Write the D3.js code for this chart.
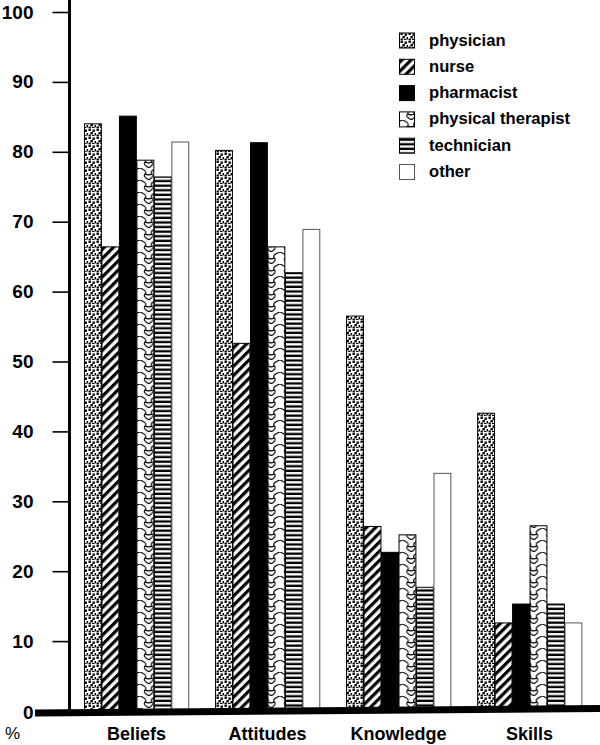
<!DOCTYPE html>
<html><head><meta charset="utf-8">
<script src="https://cdn.jsdelivr.net/npm/d3@7"></script>
<style>body{margin:0;background:#fff}svg{display:block}text{font-family:"Liberation Sans",Arial,Helvetica,sans-serif;font-weight:bold;fill:#000}</style>
</head><body><svg id="c" width="600" height="745"></svg>
<script>
const categories = ["Beliefs", "Attitudes", "Knowledge", "Skills"];
const series = ["physician", "nurse", "pharmacist", "physical therapist", "technician", "other"];
const physician = [84.0, 80.2, 56.5, 42.6];
const nurse = [66.4, 52.6, 26.4, 12.6];
const pharmacist = [85.1, 81.3, 22.7, 15.3];
const physicalTherapist = [78.8, 66.4, 25.2, 26.5];
const technician = [76.4, 62.7, 17.7, 15.3];
const other = [81.4, 68.9, 34.0, 12.6];
const yTicks = [0, 10, 20, 30, 40, 50, 60, 70, 80, 90, 100];
const values = [physician, nurse, pharmacist, physicalTherapist, technician, other];
const fills = ["url(#pDots)", "url(#pDiag)", "#000", "url(#pWave)", "url(#pHoriz)", "#fff"];
const strokes = ["#000", "#000", "#000", "#000", "#000", "#555"];

const svg = d3.select("#c");
const defs = svg.append("defs");
// stipple
const pd = defs.append("pattern").attr("id","pDots").attr("patternUnits","userSpaceOnUse").attr("width",8).attr("height",8);
pd.append("rect").attr("width",8).attr("height",8).attr("fill","#fff");
[[0.5,0.5],[4.5,1.5],[2.5,4],[6.5,5],[0.5,6.5],[4,7]].forEach(p=>pd.append("rect").attr("x",p[0]).attr("y",p[1]).attr("width",2.4).attr("height",2.4).attr("fill","#000"));
// diagonal
const pg = defs.append("pattern").attr("id","pDiag").attr("patternUnits","userSpaceOnUse").attr("width",6.5).attr("height",6.5).attr("patternTransform","rotate(45)");
pg.append("rect").attr("width",6.5).attr("height",6.5).attr("fill","#fff");
pg.append("rect").attr("width",3.2).attr("height",6.5).attr("fill","#000");
// horizontal stripes
const ph = defs.append("pattern").attr("id","pHoriz").attr("patternUnits","userSpaceOnUse").attr("width",8).attr("height",4.6);
ph.append("rect").attr("width",8).attr("height",4.6).attr("fill","#fff");
ph.append("rect").attr("y",0.5).attr("width",8).attr("height",2.3).attr("fill","#000");
// wavy chain
const pw = defs.append("pattern").attr("id","pWave").attr("patternUnits","userSpaceOnUse").attr("width",17.5).attr("height",12);
pw.append("rect").attr("width",17.5).attr("height",12).attr("fill","#fff");
pw.append("path").attr("d","M0,0 C5,2 7,4 5,6 C3,8 6,11 10,12 M17.5,0 C12,2 10,4 12,6 C14,8 11,11 8,12 M5,6 C7,7 10,7 12,6")
  .attr("fill","none").attr("stroke","#000").attr("stroke-width",1.1);
// clip above tilted baseline
defs.append("clipPath").attr("id","above").append("path").attr("d","M0,0 L600,0 L600,708 L0,713 Z");

const y = d3.scaleLinear().domain([0,100]).range([711,12]);
const x0 = d3.scaleBand().domain(categories).range([84,582]).paddingInner(0.2).paddingOuter(0);
const x1 = d3.scaleBand().domain(series).range([0,x0.bandwidth()]);

// bars
const gb = svg.append("g").attr("clip-path","url(#above)");
series.forEach((s,i)=>{
  gb.append("g").selectAll("rect").data(values[i]).join("rect")
    .attr("x",(d,j)=>x0(categories[j])+x1(s)+0.5)
    .attr("y",d=>y(d))
    .attr("width",x1.bandwidth()-0.6)
    .attr("height",d=>716-y(d))
    .attr("fill",fills[i]).attr("stroke",strokes[i]).attr("stroke-width",1);
});

// baseline (thick, slightly tilted)
svg.append("path").attr("d","M35,709.5 L600,705 L600,712 L35,716.5 Z").attr("fill","#000");

// y axis
const yAxis = d3.axisLeft(y).tickValues(yTicks).tickSize(17).tickPadding(19).tickFormat(d3.format("d"));
const ga = svg.append("g").attr("transform","translate(69.5,0)").call(yAxis);
ga.select(".domain").remove();
ga.selectAll(".tick line").attr("stroke","#000").attr("stroke-width",1.6).filter(d=>d===0).remove();
ga.selectAll(".tick text").attr("font-size",19).attr("font-family","Liberation Sans, Arial, sans-serif").attr("font-weight","bold");
ga.selectAll(".tick").filter(d=>d===0).select("text").attr("dy","0.42em");
svg.append("line").attr("x1",69.5).attr("x2",69.5).attr("y1",0).attr("y2",712).attr("stroke","#000").attr("stroke-width",3);

svg.append("text").attr("x",5).attr("y",739).attr("font-size",17).style("font-weight","normal").text("%");

// category labels
svg.append("g").selectAll("text").data(categories).join("text")
  .attr("x",d=>x0(d)+x0.bandwidth()/2).attr("y",740).attr("text-anchor","middle").attr("font-size",18).text(d=>d);

// legend
const lg = svg.append("g");
series.forEach((s,i)=>{
  const yy = 33 + i*26.3;
  lg.append("rect").attr("x",399.5).attr("y",yy).attr("width",15).attr("height",15)
    .attr("fill",fills[i]).attr("stroke",strokes[i]).attr("stroke-width",1);
  lg.append("text").attr("x",429).attr("y",yy+12.5).attr("font-size",16.6).text(s);
});
</script></body></html>
